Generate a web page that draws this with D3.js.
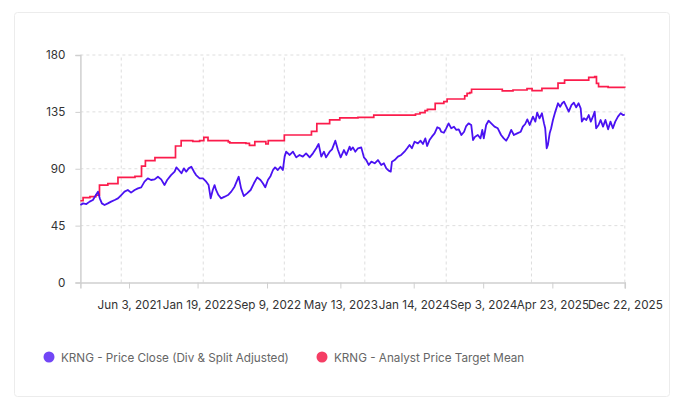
<!DOCTYPE html>
<html>
<head>
<meta charset="utf-8">
<script src="https://cdn.jsdelivr.net/npm/d3@7"></script>
<style>
  html, body { margin: 0; padding: 0; background: #fff; }
  svg { display: block; font-family: Inter, "Noto Sans", sans-serif; }
</style>
</head>
<body>
<svg id="chart" width="681" height="411"></svg>
<script>
const priceDates = ["2020-12-22","2020-12-31","2021-01-11","2021-01-22","2021-02-02","2021-02-10","2021-02-19","2021-02-25","2021-03-04","2021-03-13","2021-03-24","2021-04-04","2021-04-16","2021-04-27","2021-05-08","2021-05-19","2021-05-30","2021-06-10","2021-06-22","2021-07-03","2021-07-14","2021-07-25","2021-08-05","2021-08-16","2021-08-28","2021-09-08","2021-09-19","2021-09-30","2021-10-09",
"2021-10-22","2021-11-03","2021-11-09","2021-11-17","2021-11-26","2021-12-04","2021-12-12","2021-12-20","2021-12-29","2022-01-07","2022-01-14","2022-01-26","2022-02-06","2022-02-17","2022-02-25","2022-03-04","2022-03-11","2022-03-17","2022-03-22","2022-03-30","2022-04-08","2022-04-20","2022-05-01","2022-05-12","2022-05-23","2022-06-06","2022-06-14","2022-06-23","2022-07-04","2022-07-16","2022-07-27","2022-08-07",
"2022-08-18","2022-08-26","2022-09-03","2022-09-12","2022-09-21","2022-09-29","2022-10-06","2022-10-15","2022-10-24","2022-11-01","2022-11-07","2022-11-12","2022-11-24","2022-12-05","2022-12-16","2022-12-27","2023-01-07","2023-01-18","2023-01-30","2023-02-10","2023-02-21","2023-03-01","2023-03-10","2023-03-19","2023-03-26","2023-04-07","2023-04-15","2023-04-26","2023-05-05","2023-05-14","2023-05-25","2023-06-02","2023-06-13",
"2023-06-17","2023-06-24","2023-07-02","2023-07-11","2023-07-22","2023-07-31","2023-08-08","2023-08-16","2023-08-25","2023-09-05","2023-09-16","2023-09-27","2023-10-06","2023-10-14","2023-10-22","2023-10-29","2023-11-02","2023-11-11","2023-11-22","2023-12-03","2023-12-14","2023-12-23","2023-12-31","2024-01-08","2024-01-17","2024-01-28","2024-02-06","2024-02-14","2024-02-22","2024-02-28","2024-03-07","2024-03-15","2024-03-24","2024-04-02",
"2024-04-10","2024-04-15","2024-04-24","2024-05-02","2024-05-10","2024-05-19","2024-05-28","2024-06-05","2024-06-13","2024-06-22","2024-07-01","2024-07-08","2024-07-16","2024-07-25","2024-07-31","2024-08-07","2024-08-16","2024-08-25","2024-08-31","2024-09-05","2024-09-13","2024-09-21","2024-09-30","2024-10-11","2024-10-22","2024-11-02","2024-11-11","2024-11-19","2024-11-27","2024-12-06","2024-12-15","2024-12-26","2025-01-07","2025-01-14","2025-01-22","2025-01-29","2025-02-06",
"2025-02-09","2025-02-17","2025-02-25","2025-03-03","2025-03-11","2025-03-19","2025-03-26","2025-03-30","2025-04-04","2025-04-08","2025-04-14","2025-04-19","2025-04-25","2025-05-03","2025-05-12","2025-05-19","2025-05-26","2025-06-01","2025-06-09","2025-06-17","2025-06-26","2025-07-04","2025-07-12","2025-07-20","2025-07-27","2025-07-31","2025-08-07","2025-08-15","2025-08-23","2025-08-30","2025-09-06","2025-09-12","2025-09-17","2025-09-25","2025-10-02","2025-10-10","2025-10-18","2025-10-27","2025-11-04","2025-11-12","2025-11-20","2025-11-29","2025-12-08","2025-12-16","2025-12-22"];

const priceValues = [61.3,62.6,62.1,64,65.3,68.4,71.9,66.6,62.6,61.3,62.6,64,65.3,66.6,69.2,71.9,73.2,71.1,73.2,74.5,75.3,79.8,82.4,81.1,81.6,83.7,81.6,77.1,81.1,
85,87.7,91.1,89,86.4,90.3,87.7,90.3,91.6,87.7,85,82.4,82.4,79.8,77.1,66.6,73.2,77.1,73.2,69.2,66.6,67.9,69.2,71.9,75.8,83.7,74.5,68.4,70.5,73.2,78.5,83.2,
81.1,78.5,75.3,81.1,84.3,89,91.1,89,91.6,89,99.6,103.5,100.9,103.5,99,100.9,99.6,102.2,99,102.2,106.2,109.6,99.6,103.5,99,103.5,105.3,112.2,104.8,99,104.8,100.9,107.5,
104.8,106.9,103.5,106.2,106.9,99,96.9,93,95.6,94.3,96.9,93,94.3,90.3,88.5,87.7,95.6,96.9,99.6,100.9,103.5,106.2,108.8,106.2,111.4,110.1,112.2,109.6,114,108,112.7,115.4,118,122.8,
122,119.3,118.5,122,125.9,122,123.3,120.7,121.2,116.7,119.3,123.8,125.9,124.6,112.7,115.4,116.7,114,120.7,114,124.6,128,125.9,123.3,122,116.7,114,112.2,115.4,120.7,116.7,118,119.3,123.3,125.4,129.1,124.6,
126.5,131.2,127.3,134.4,129.9,133.9,125.9,122,106.2,108.8,118,122,128.6,135.2,141.8,139.1,141.8,143.1,139.1,135.2,140.4,142.3,138.6,141.8,137.8,127.3,129.9,128.6,132.5,127.3,131.2,135.2,122,124.6,128.6,123.3,128.6,121.2,127.3,122,127.3,131.2,133.9,132.5,132.8];

const targetDates = ["2020-12-22","2020-12-31","2021-01-23","2021-02-12","2021-02-24","2021-03-24","2021-04-27","2021-06-23","2021-07-15","2021-07-28","2021-08-29","2021-11-06","2021-11-25","2022-01-03","2022-01-26","2022-02-09","2022-02-23","2022-05-02","2022-05-07","2022-06-30","2022-07-12","2022-07-30","2022-09-05","2022-09-13","2022-11-06","2023-02-05","2023-02-23","2023-04-07","2023-05-11","2023-07-11","2023-09-02","2024-01-20","2024-02-04","2024-02-21","2024-02-29","2024-03-26","2024-04-24","2024-05-05","2024-07-03","2024-07-11","2024-07-20","2024-07-26","2024-11-06","2024-12-12","2025-01-28","2025-02-14","2025-03-19","2025-05-12","2025-06-03","2025-08-23","2025-09-12","2025-09-18","2025-09-25","2025-10-27","2025-12-22"];
const targetValues = [64.7,67.1,67.9,69.2,77.1,78.3,83.2,84.0,92,96.4,98.8,108,112.2,111.6,112.2,114.8,112.2,111.2,110.4,110.1,108.5,111.4,109.6,112.2,116.7,119.5,125.7,128.6,130.2,130.7,132.5,133.3,134.4,136,137,141.8,143.1,145.2,147.6,149.7,150.2,152.9,151.6,152.3,153.4,151.8,153.6,157.8,160.2,162.3,162.9,157.6,155,154.4,154];

const xTickDates = ["2021-06-03","2022-01-19","2022-09-09","2023-05-13","2024-01-14","2024-09-03","2025-04-23","2025-12-22"];
const xGridDates = ["2021-05-08","2022-02-07","2022-11-06","2023-08-03","2024-05-02","2025-02-12","2025-12-22"];
const yTicks = [0, 45, 90, 135, 180];
const domainDates = ["2020-12-22", "2025-12-22"];

const seriesNames = ["KRNG - Price Close (Div & Split Adjusted)", "KRNG - Analyst Price Target Mean"];
const lineColors = ["#4a12f2", "#fb1c4c"];
const legendColors = ["#7246f6", "#f53d64"];

const parse = d3.utcParse("%Y-%m-%d");
const svg = d3.select("#chart");

// card
svg.append("rect").attr("x", 14.5).attr("y", 12.5).attr("width", 655).attr("height", 384)
  .attr("rx", 3).attr("fill", "#fff").attr("stroke", "#ececec");

const x = d3.scaleUtc().domain(domainDates.map(parse)).range([80.4, 624.8]);
const y = d3.scaleLinear().domain([0, 180]).range([282.5, 55]);

// grid
const grid = svg.append("g");
grid.selectAll(".hg").data(yTicks.filter(d => d > 0)).join("line")
  .attr("x1", x.range()[0]).attr("x2", x.range()[1])
  .attr("y1", d => y(d)).attr("y2", d => y(d))
  .attr("stroke", "#dedede").attr("stroke-dasharray", "3,3");
grid.selectAll(".vg").data(xGridDates.map(parse)).join("line")
  .attr("x1", d => x(d)).attr("x2", d => x(d))
  .attr("y1", y(0)).attr("y2", y(180))
  .attr("stroke", "#dedede").attr("stroke-dasharray", "3,3");

// axes
const yAxis = svg.append("g").attr("transform", `translate(${x.range()[0]},0)`)
  .call(d3.axisLeft(y).tickValues(yTicks).tickSize(5).tickPadding(10));
const xAxis = svg.append("g").attr("transform", `translate(0,${y(0)})`)
  .call(d3.axisBottom(x).tickValues(xTickDates.map(parse)).tickSize(6).tickPadding(12)
    .tickFormat(d3.utcFormat("%b %-d, %Y")));
[yAxis, xAxis].forEach(a => {
  a.select(".domain").attr("stroke", "#cfcfcf").attr("stroke-width", 1.5);
  a.selectAll(".tick line").attr("stroke", "#cfcfcf");
  a.selectAll(".tick text").attr("fill", "#333").style("font-size", "11.7px").style("font-family", "Inter, sans-serif");
});

// lines
const priceData = d3.zip(priceDates.map(parse), priceValues);
const targetData = d3.zip(targetDates.map(parse), targetValues);

svg.append("path").datum(targetData)
  .attr("fill", "none").attr("stroke", lineColors[1]).attr("stroke-width", 1.7)
  .attr("d", d3.line().x(d => x(d[0])).y(d => y(d[1])).curve(d3.curveStepAfter));
svg.append("path").datum(priceData)
  .attr("fill", "none").attr("stroke", lineColors[0]).attr("stroke-width", 1.8)
  .attr("stroke-linejoin", "round")
  .attr("d", d3.line().x(d => x(d[0])).y(d => y(d[1])));

// legend
const legendX = [49, 322];
const lg = svg.append("g");
seriesNames.forEach((name, i) => {
  lg.append("circle").attr("cx", legendX[i]).attr("cy", 357).attr("r", 5.5).attr("fill", legendColors[i]);
  lg.append("text").attr("x", legendX[i] + 12).attr("y", 361.5).text(name)
    .attr("fill", "#666").style("font-size", "11.7px");
});
</script>
</body>
</html>
